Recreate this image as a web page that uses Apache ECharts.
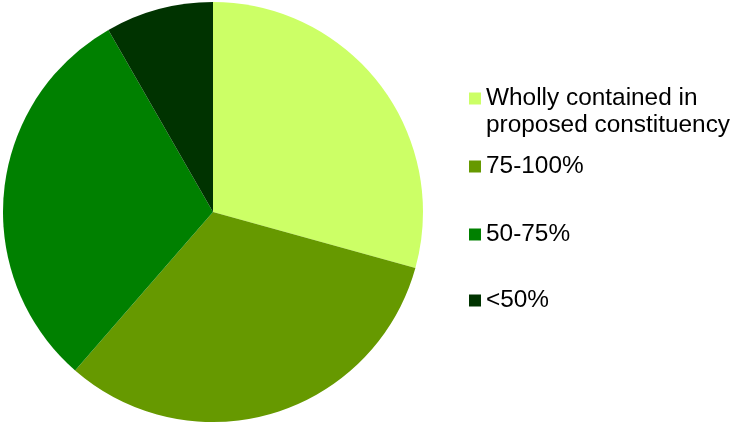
<!DOCTYPE html>
<html>
<head>
<meta charset="utf-8">
<script src="https://cdn.jsdelivr.net/npm/echarts@6/dist/echarts.min.js"></script>
<style>
  html, body { margin: 0; padding: 0; background: #fff; }
  #main { width: 731px; height: 423px; }
</style>
</head>
<body>
<div id="main"></div>
<script>
// 数据
const categories = ['Wholly contained in\nproposed constituency', '75-100%', '50-75%', '<50%'];
const shares = [29.3, 32.1, 30.3, 8.3];
const colors = ['#CCFF66', '#669900', '#008000', '#003300'];

const myEChart = echarts.init(document.getElementById('main'));

// 每个图例单独放置，位置跟原图一致
const legendTops = [58, 153, 221, 287];
const legends = categories.map((name, i) => ({
  data: [name],
  orient: 'vertical',
  left: 469,
  top: legendTops[i],
  padding: 0,
  itemWidth: 12,
  itemHeight: 12,
  icon: 'rect',
  selectedMode: false,
  // 第一项两行文字：加一个空行让图标对齐第一行
  formatter: i === 0 ? function (n) { return ' \n' + n; } : '{name}',
  textStyle: {
    fontFamily: 'Liberation Sans, Arial, sans-serif',
    fontSize: 24.4,
    lineHeight: 27,
    color: '#000'
  }
}));

const option = {
  animation: false,
  color: colors,
  legend: legends,
  series: [
    {
      type: 'pie',
      center: [213, 212],
      radius: 210,
      startAngle: 90,
      clockwise: true,
      label: { show: false },
      labelLine: { show: false },
      itemStyle: { borderWidth: 0 },
      emphasis: { disabled: true },
      data: categories.map((name, i) => ({ name: name, value: shares[i] }))
    }
  ]
};
myEChart.setOption(option);
</script>
</body>
</html>
